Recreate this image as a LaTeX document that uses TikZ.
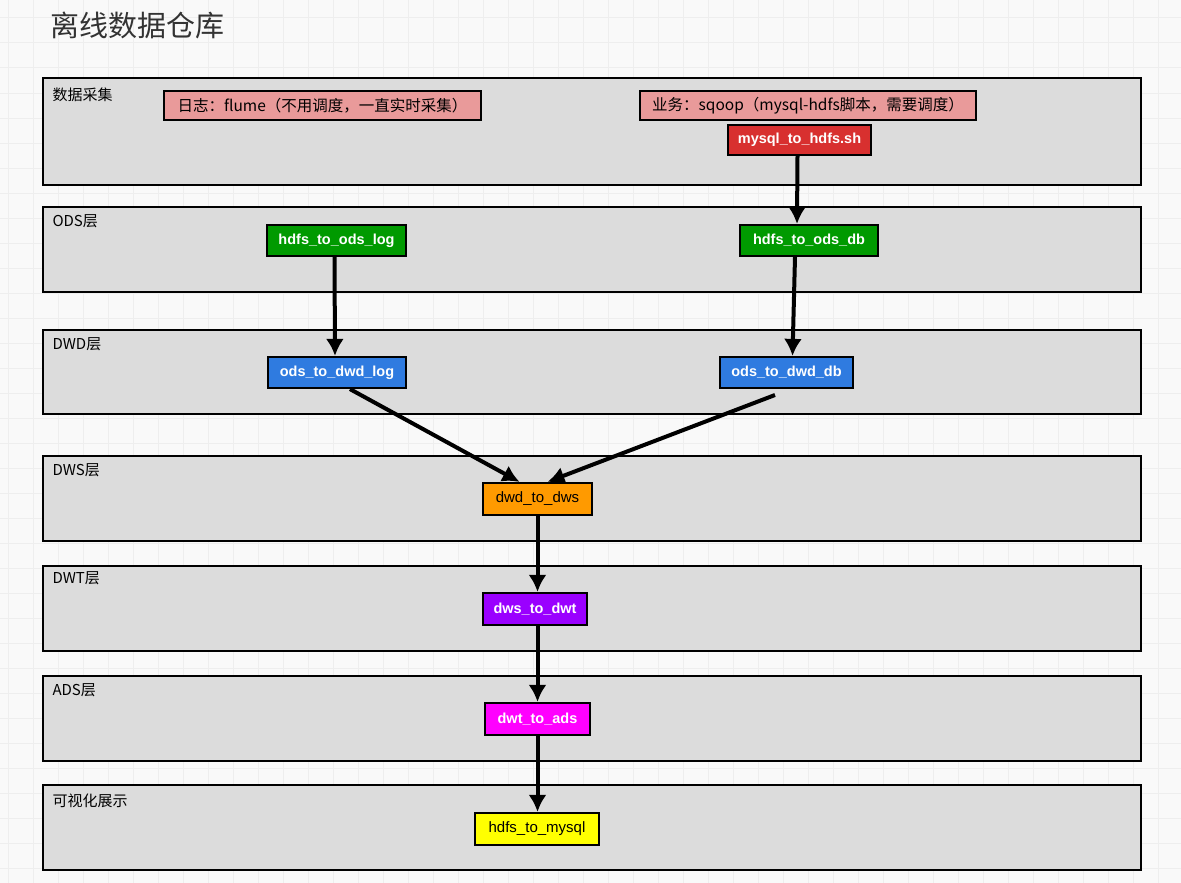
\documentclass[tikz,border=0pt]{standalone}
\usepackage{fontspec}
\usepackage{xcolor}
\usepackage{tikz}
\usetikzlibrary{arrows,arrows.meta,positioning,calc}
\setmainfont{Liberation Sans}
\newfontfamily\cjk{Noto Sans CJK SC}
\definecolor{paper}{HTML}{F9F9F9}
\definecolor{gridline}{HTML}{EEEEEE}
\definecolor{bandgray}{HTML}{DCDCDC}
\definecolor{srcpink}{HTML}{E99A9A}
\definecolor{shred}{HTML}{D8302F}
\definecolor{odsgreen}{HTML}{009A00}
\definecolor{dwdblue}{HTML}{2F7BE0}
\definecolor{dwsorange}{HTML}{FF9A00}
\definecolor{dwtpurple}{HTML}{9A00FF}
\definecolor{adsmagenta}{HTML}{FF00FF}
\definecolor{visyellow}{HTML}{FFFF00}

\begin{document}
\begin{tikzpicture}[x=1pt, y=-1pt,
  band/.style={draw=black, fill=bandgray, line width=2.5pt},
  laylabel/.style={anchor=west, font=\cjk\fontsize{15}{18}\selectfont},
  srcbox/.style={draw=black, fill=srcpink, line width=2.2pt, inner sep=0pt, font=\cjk\fontsize{15.5}{18}\selectfont},
  job/.style={draw=black, line width=2.2pt, inner sep=0pt, minimum height=31pt, font=\bfseries\fontsize{14.5}{17}\selectfont, text=white},
  flow/.style={-{Latex[length=17pt,width=18pt]}, line width=4pt}]
\useasboundingbox (0,0) rectangle (1181,883);
\fill[paper] (0,0) rectangle (1181,883);
\foreach \gx in {8,33,...,1181} \draw[gridline, line width=1pt] (\gx,0) -- (\gx,883);
\foreach \gy in {18,43,...,883} \draw[gridline, line width=1pt] (0,\gy) -- (1181,\gy);

\node[anchor=west, text=black!80, font=\cjk\fontsize{29}{34}\selectfont] (title) at (47,25) {离线数据仓库};

\draw[band] (43,78) rectangle (1141,185);
\draw[band] (43,207) rectangle (1141,292);
\draw[band] (43,330) rectangle (1141,414);
\draw[band] (43,456) rectangle (1141,541);
\draw[band] (43,566) rectangle (1141,651);
\draw[band] (43,676) rectangle (1141,761);
\draw[band] (43,785) rectangle (1141,870);
\node[laylabel] (lcollect) at (49,95) {数据采集};
\node[laylabel] (lods) at (49,221) {ODS层};
\node[laylabel] (ldwd) at (49,344) {DWD层};
\node[laylabel] (ldws) at (49,470) {DWS层};
\node[laylabel] (ldwt) at (49,578) {DWT层};
\node[laylabel] (lads) at (49,690) {ADS层};
\node[laylabel] (lvis) at (49,801) {可视化展示};

\node[srcbox, minimum width=317pt, minimum height=29pt] (logsrc) at (322.5,105.5) {日志：flume（不用调度，一直实时采集）};
\node[srcbox, minimum width=336pt, minimum height=29pt] (dbsrc) at (808,105.5) {业务：sqoop（mysql-hdfs脚本，需要调度）};
\node[job, fill=shred, minimum width=143pt, minimum height=30pt] (mysqlsh) at (799.5,140) {mysql\_to\_hdfs.sh};
\node[job, fill=odsgreen, minimum width=139pt] (odslog) at (336.5,240.5) {hdfs\_to\_ods\_log};
\node[job, fill=odsgreen, minimum width=138pt] (odsdb) at (809,240.5) {hdfs\_to\_ods\_db};
\node[job, fill=dwdblue, minimum width=138pt] (dwdlog) at (337,372.5) {ods\_to\_dwd\_log};
\node[job, fill=dwdblue, minimum width=133pt] (dwddb) at (786.5,372.5) {ods\_to\_dwd\_db};
\node[job, fill=dwsorange, text=black, font=\fontsize{15}{18}\selectfont, minimum width=109pt, minimum height=32pt] (dws) at (537.5,499) {dwd\_to\_dws};
\node[job, fill=dwtpurple, minimum width=104pt, minimum height=32pt] (dwt) at (535,609) {dws\_to\_dwt};
\node[job, fill=adsmagenta, minimum width=105pt, minimum height=32pt] (ads) at (537.5,719) {dwt\_to\_ads};
\node[job, fill=visyellow, text=black, font=\fontsize{15}{18}\selectfont, minimum width=124pt, minimum height=32pt] (vis) at (537,829) {hdfs\_to\_mysql};
\coordinate (dbtail) at (775,395);

\draw[flow] ([xshift=-2pt]mysqlsh.south) -- ([xshift=-12pt]odsdb.north);
\draw[flow] ([xshift=-2pt]odslog.south) -- ([xshift=-2pt]dwdlog.north);
\draw[flow] ([xshift=-14pt]odsdb.south) -- ([xshift=6pt]dwddb.north);
\draw[flow] ([xshift=13pt]dwdlog.south) -- ([xshift=-18pt]dws.north);
\draw[flow] (dbtail) -- ([xshift=10pt]dws.north);
\draw[flow] (dws.south) -- (dws.south |- dwt.north);
\draw[flow] (ads |- dwt.south) -- (ads.north);
\draw[flow] (ads.south) -- (ads.south |- vis.north);
\end{tikzpicture}
\end{document}
